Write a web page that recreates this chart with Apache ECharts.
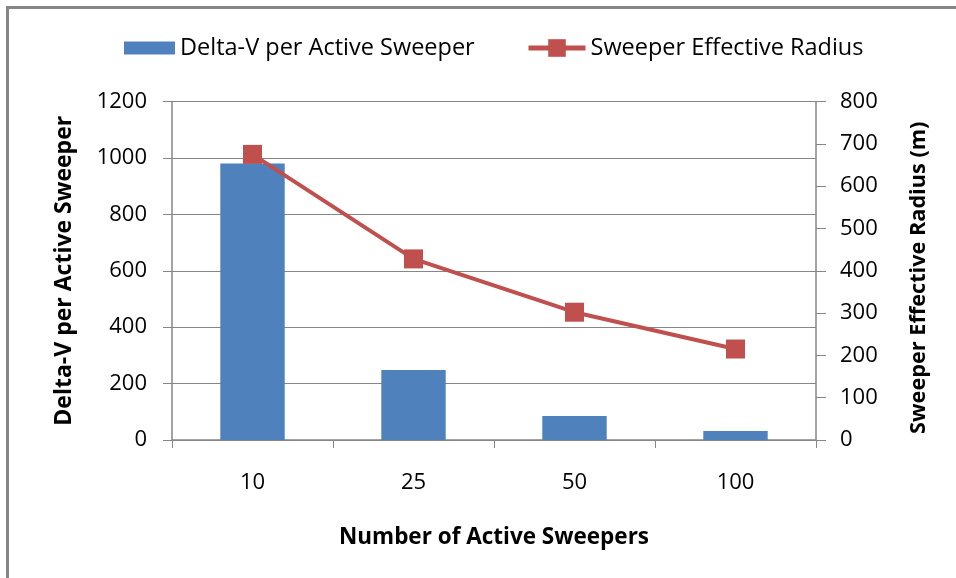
<!DOCTYPE html>
<html>
<head>
<meta charset="utf-8">
<script src="https://cdn.jsdelivr.net/npm/echarts@6/dist/echarts.min.js"></script>
<style>
html,body{margin:0;padding:0;background:#fff;overflow:hidden;}
#wrap{position:relative;width:956px;height:578px;overflow:hidden;}
#chart{position:absolute;left:0;top:0;width:956px;height:578px;}
#frame{position:absolute;left:6px;top:6px;width:2000px;height:2000px;border-left:3px solid #868686;border-top:3px solid #868686;pointer-events:none;}
</style>
</head>
<body>
<div id="wrap"><div id="chart"></div><div id="frame"></div></div>
<script>
const categories = ['10', '25', '50', '100'];
const deltaV = [980, 248, 85, 32];
const radius = [675, 428, 302, 215];
const leftTicks = { min: 0, max: 1200, interval: 200 };
const rightTicks = { min: 0, max: 800, interval: 100 };

const FONT = 'Open Sans';
const axisGray = '#868686';

const chart = echarts.init(document.getElementById('chart'), null, { renderer: 'canvas' });
chart.setOption({
  backgroundColor: 'transparent',
  animation: false,
  textStyle: { fontFamily: FONT },
  legend: [{
    left: 124,
    top: 36,
    padding: 0,
    itemWidth: 51,
    itemHeight: 13,
    textStyle: { fontFamily: FONT, fontSize: 23.5, color: '#000' },
    data: [{ name: 'Delta-V per Active Sweeper', icon: 'rect' }]
  }, {
    left: 526,
    top: 36,
    padding: 0,
    itemWidth: 57,
    itemHeight: 22,
    textStyle: { fontFamily: FONT, fontSize: 23.5, color: '#000' },
    data: [{ name: 'Sweeper Effective Radius', lineStyle: { width: 5 } }]
  }],
  grid: { left: 172, right: 140, top: 101.5, bottom: 138 },
  xAxis: {
    type: 'category',
    data: categories,
    boundaryGap: true,
    axisLine: { lineStyle: { color: axisGray, width: 1.5 } },
    axisTick: { show: true, length: 8, lineStyle: { color: axisGray } },
    axisLabel: { fontFamily: FONT, fontSize: 22, color: '#000', margin: 32 },
    name: 'Number of Active Sweepers',
    nameLocation: 'middle',
    nameGap: 86,
    nameTextStyle: { fontFamily: FONT, fontSize: 22.5, fontWeight: 'bold', color: '#000' }
  },
  yAxis: [{
    type: 'value',
    min: leftTicks.min, max: leftTicks.max, interval: leftTicks.interval,
    position: 'left',
    axisLine: { show: true, lineStyle: { color: axisGray, width: 1.5 } },
    axisTick: { show: true, length: 9, lineStyle: { color: axisGray } },
    splitLine: { show: true, lineStyle: { color: axisGray, width: 1 } },
    axisLabel: { fontFamily: FONT, fontSize: 22, color: '#000', margin: 25, formatter: v => String(v) },
    name: 'Delta-V per Active Sweeper',
    nameLocation: 'middle',
    nameGap: 96,
    nameRotate: 90,
    nameTextStyle: { fontFamily: FONT, fontSize: 23, fontWeight: 'bold', color: '#000' }
  }, {
    type: 'value',
    min: rightTicks.min, max: rightTicks.max, interval: rightTicks.interval,
    position: 'right',
    axisLine: { show: true, lineStyle: { color: axisGray, width: 1.5 } },
    axisTick: { show: true, length: 10, lineStyle: { color: axisGray } },
    splitLine: { show: false },
    axisLabel: { fontFamily: FONT, fontSize: 22, color: '#000', margin: 24, formatter: v => String(v) },
    name: 'Sweeper Effective Radius (m)',
    nameLocation: 'middle',
    nameGap: 92,
    nameRotate: 90,
    nameTextStyle: { fontFamily: FONT, fontSize: 21.7, fontWeight: 'bold', color: '#000', padding: [0, 14, 0, 0] }
  }],
  series: [{
    name: 'Delta-V per Active Sweeper',
    type: 'bar',
    yAxisIndex: 0,
    data: deltaV,
    barWidth: '40%',
    itemStyle: { color: '#4F81BD' }
  }, {
    name: 'Sweeper Effective Radius',
    type: 'line',
    yAxisIndex: 1,
    data: radius,
    symbol: 'rect',
    symbolSize: 19,
    lineStyle: { color: '#C0504D', width: 4 },
    itemStyle: { color: '#C0504D' }
  }]
});
</script>
</body>
</html>
